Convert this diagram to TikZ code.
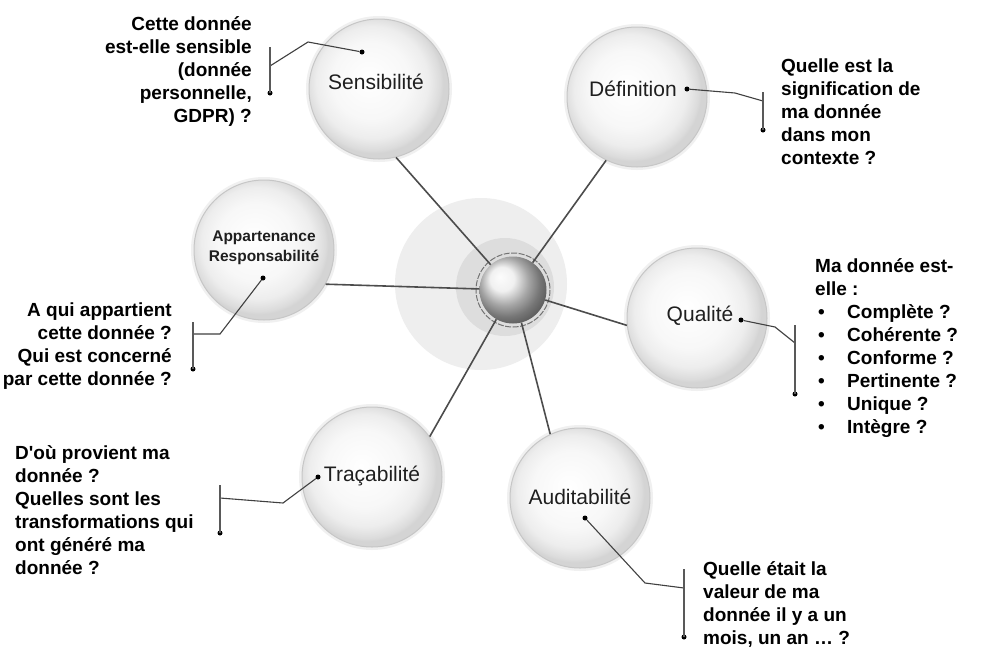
\documentclass[tikz,border=0pt]{standalone}
\usepackage{fontspec}
\setmainfont{Liberation Sans}
\usetikzlibrary{shadings}
\pgfdeclareradialshading{bubshade}{\pgfpoint{-4bp}{4bp}}{%
  color(0bp)=(white); color(14bp)=(white!97!black); color(20bp)=(white!93!black);
  color(24bp)=(white!86!black); color(25bp)=(white!83!black); color(50bp)=(white!83!black)}
\begin{document}
\begin{tikzpicture}[x=1pt,y=-1pt,
  bubble/.style={circle, inner sep=0pt, minimum size=140pt,
    preaction={draw=gray!12, line width=6pt},
    draw=gray!45, line width=1pt, shading=bubshade},
  blabel/.style={font=\fontsize{21}{24}\selectfont, text=black!88, inner sep=0pt},
  qtext/.style={font=\bfseries\fontsize{19}{23}\selectfont, inner sep=0pt},
  spoke/.style={draw=black!70, line width=1.6pt},
  lead/.style={draw=black!75, line width=1.1pt},
  bar/.style={draw=black!65, line width=1.8pt},
  ldot/.style={circle, fill=black, inner sep=0pt, minimum size=5pt},
]
\useasboundingbox (0,0) rectangle (989,651);
\fill[white] (0,0) rectangle (989,651);

% hub
\fill[gray!13] (481,284) circle (86);
\fill[gray!27] (505,287) circle (49);
\node[circle, inner sep=0pt, minimum size=67pt, shading=ball, ball color=gray!15] (hub) at (513,290) {};
\draw[black!55, line width=1pt, dash pattern=on 6pt off 1.5pt] (513,290) circle (37);

% bubbles
\node[bubble] (sens) at (379,89) {};
\node[bubble] (defi) at (637,97) {};
\node[bubble] (appa) at (264,250) {};
\node[bubble] (qual) at (697,318) {};
\node[bubble] (trac) at (372,477) {};
\node[bubble] (audi) at (580,498) {};

% spokes
\draw[spoke] (sens.-76) -- (hub);
\draw[spoke] (defi.244) -- (hub);
\draw[spoke] (appa.-29) -- (hub);
\draw[spoke] (qual.186) -- (hub);
\draw[spoke] (trac.35) -- (hub);
\draw[spoke] (audi.115) -- (hub);

% bubble labels
\node[blabel] (lsens) at (376,82) {Sensibilité};
\node[blabel] (ldefi) at (633,89) {Définition};
\node[blabel, font=\bfseries\fontsize{15.5}{20}\selectfont, align=center] (lappa) at (264,248) {Appartenance\\Responsabilité};
\node[blabel] (lqual) at (700,316) {Qualité};
\node[blabel] (ltrac) at (372,476) {Traçabilité};
\node[blabel] (laudi) at (580,497) {Auditabilité};

% callout: Sensibilité
\node[ldot] (s0) at (362,52) {};
\coordinate (s1) at (308,42);
\coordinate (s2) at (270,66);
\coordinate (st) at (270,47);
\node[ldot] (sb) at (270,93) {};
\draw[lead] (s0) -- (s1) -- (s2);
\draw[bar] (st) -- (sb.center);
\node[qtext, anchor=east, align=right] (tsens) at (252,72) {Cette donnée\\est-elle sensible\\(donnée\\personnelle,\\GDPR) ?};

% callout: Définition
\node[ldot] (d0) at (687,89) {};
\coordinate (d1) at (735,93);
\coordinate (d2) at (763,101);
\coordinate (dt) at (763,92);
\node[ldot] (db) at (763,130) {};
\draw[lead] (d0) -- (d1) -- (d2);
\draw[bar] (dt) -- (db.center);
\node[qtext, anchor=west, align=left] (tdefi) at (781,112) {Quelle est la\\signification de\\ma donnée\\dans mon\\contexte ?};

% callout: Appartenance
\node[ldot] (a0) at (263,278) {};
\coordinate (a1) at (220,334);
\coordinate (a2) at (193,334);
\coordinate (at) at (193,322);
\node[ldot] (ab) at (193,369) {};
\draw[lead] (a0) -- (a1) -- (a2);
\draw[bar] (at) -- (ab.center);
\node[qtext, anchor=east, align=right] (tappa) at (172,346) {A qui appartient\\cette donnée ?\\Qui est concerné\\par cette donnée ?};

% callout: Qualité
\node[ldot] (q0) at (741,320) {};
\coordinate (q1) at (775,327);
\coordinate (q2) at (795,343);
\coordinate (qt) at (795,325);
\node[ldot] (qb) at (795,394) {};
\draw[lead] (q0) -- (q1) -- (q2);
\draw[bar] (qt) -- (qb.center);
\newcommand{\qitem}[1]{\makebox[32pt][l]{\hspace{3pt}•}#1}
\node[qtext, anchor=west, align=left] (tqual) at (815,348) {Ma donnée est-\\elle :\\\qitem{Complète ?}\\\qitem{Cohérente ?}\\\qitem{Conforme ?}\\\qitem{Pertinente ?}\\\qitem{Unique ?}\\\qitem{Intègre ?}};

% callout: Traçabilité
\node[ldot] (r0) at (318,477) {};
\coordinate (r1) at (283,503);
\coordinate (r2) at (220,498);
\coordinate (rt) at (220,485);
\node[ldot] (rb) at (220,533) {};
\draw[lead] (r0) -- (r1) -- (r2);
\draw[bar] (rt) -- (rb.center);
\node[qtext, anchor=west, align=left] (ttrac) at (15,510) {D\textquotesingle où provient ma\\donnée ?\\Quelles sont les\\transformations qui\\ont généré ma\\donnée ?};

% callout: Auditabilité
\node[ldot] (u0) at (585,518) {};
\coordinate (u1) at (645,583);
\coordinate (u2) at (684,588);
\coordinate (ut) at (684,569);
\node[ldot] (ub) at (684,637) {};
\draw[lead] (u0) -- (u1) -- (u2);
\draw[bar] (ut) -- (ub.center);
\node[qtext, anchor=west, align=left] (taudi) at (703,604) {Quelle était la\\valeur de ma\\donnée il y a un\\mois, un an … ?};
\end{tikzpicture}
\end{document}
